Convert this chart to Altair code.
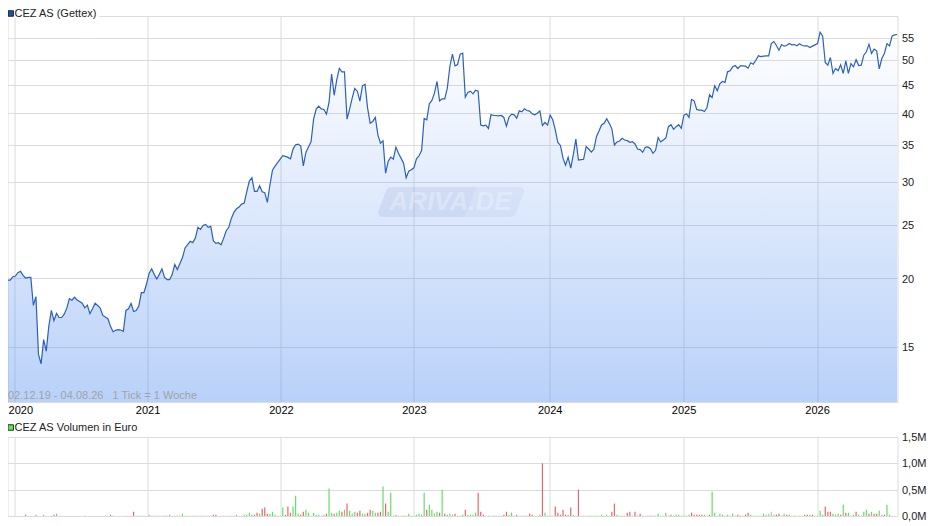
import altair as alt
import pandas as pd

prices = [
19.92,19.89,19.86,19.86,20.14,20.2,20.48,20.6,20.25,20.03,20.08,20.08,17.85,18.53,14.53,13.97,15.47,14.73,16.35,17.48,
16.74,17.26,16.97,16.97,17.21,17.65,18.37,18.25,18.48,18.27,18.15,18.02,17.67,17.87,17.24,17.6,18.02,17.85,17.65,17.12,
17.0,16.88,16.35,15.99,16.08,16.12,16.1,16.01,17.48,17.6,18.0,17.4,17.48,17.8,18.84,18.84,19.53,20.42,20.82,20.34,
19.94,20.34,20.82,20.11,19.89,19.89,20.34,21.2,20.76,21.29,21.83,22.73,23.05,23.37,23.24,
23.69,24.78,24.57,24.98,25.09,24.78,24.88,23.43,23.17,23.23,23.04,23.66,24.43,24.78,25.73,26.39,26.79,26.98,27.32,27.44,
28.78,30.1,30.52,28.82,28.82,29.51,28.78,28.66,27.52,29.59,31.51,32.05,32.51,33.01,33.48,33.38,33.24,
33.05,34.42,35.05,35.15,34.85,32.09,33.94,34.71,35.49,39.04,40.71,41.23,40.76,40.65,39.86,41.87,47.15,43.15,46.05,48.29,
47.62,47.62,39.04,40.71,42.63,44.4,43.9,42.1,44.9,45.21,40.88,38.38,38.66,39.31,36.55,35.3,35.64,31.12,32.68,33.28,33.0,
34.71,33.84,33.14,32.45,30.52,31.38,31.56,31.82,33.05,33.47,34.22,39.15,38.93,41.63,42.22,43.54,45.73,42.16,42.51,42.51,
44.46,48.7,51.28,48.84,49.11,51.28,51.5,42.81,43.66,43.9,43.42,44.09,43.9,38.07,37.96,38.07,37.54,39.8,39.64,39.64,39.58,
39.64,39.31,37.9,39.36,39.86,39.75,39.2,40.42,40.25,40.76,40.48,40.37,39.92,39.75,40.03,40.42,38.01,38.49,38.07,39.7,
38.93,37.33,35.39,34.95,33.14,32.18,33.28,31.78,33.61,35.89,32.86,
32.93,32.98,34.78,34.43,34.0,34.39,36.27,37.14,38.09,38.35,39.11,38.35,37.48,35.02,35.47,35.62,36.01,35.76,35.66,35.42,
35.52,35.17,34.43,34.35,33.96,34.68,34.73,34.48,33.82,34.25,36.12,35.47,35.76,36.06,37.82,38.14,37.4,37.82,38.14,37.56,
39.67,39.94,39.33,
42.39,42.16,40.66,40.54,40.54,40.31,41.0,43.24,42.75,44.9,43.97,45.28,45.72,45.53,47.62,47.82,48.63,48.9,48.29,48.83,
48.83,48.76,48.36,49.45,49.17,50.0,50.93,50.78,50.85,50.93,50.93,53.63,54.08,53.18,52.15,53.4,53.04,53.18,53.63,53.33,
53.4,53.11,53.56,53.18,53.11,53.11,52.74,53.04,53.33,53.63,56.25,55.31,49.52,48.97,50.57,47.29,48.29,47.82,49.04,47.29,
49.87,47.29,49.31,48.63,50.14,48.9,48.97,51.07,51.79,53.48,51.43,52.37,52.0,48.22,50.36,51.43,53.63,53.11,55.39,55.62,55.7,
]

volumes = [
.10,0,0,0,0,0,0,0,0,.025,0,0,0,.025,0,0,.025,0,0,.006,
.025,.045,0,0,0,0,0,0,0,0,0,0,.006,0,0,0,0,0,0,0,
.006,0,.025,.006,0,0,0,0,.006,0,.006,.08,.006,.006,.006,.006,0,.025,.006,.006,
.006,.006,.006,.006,.006,.025,0,.006,.006,.006,.045,.006,.006,.006,.006,.006,.006,.006,.006,.006,
.006,.006,.025,.025,0,.006,.006,.006,.006,.006,.006,.025,.006,.006,.025,.025,.063,.03,.025,.063,
.045,.14,.16,.045,.045,.08,.025,.006,.006,.16,.025,.18,.063,.18,.385,.045,.025,.08,.12,.063,
.006,.063,.025,.025,.006,.025,.045,.52,.063,.045,.063,.10,.08,.12,.235,.10,.045,.08,.063,.10,
.045,.045,.063,.12,.10,.063,.063,.08,.56,.235,.08,.44,.006,.025,.006,.006,.006,.006,.045,.006,
.006,.025,.045,.025,.44,.12,.215,.12,.045,.08,.063,.5,.045,.025,.045,.025,.045,.006,.006,.025,
.12,.025,
.025,.025,.063,.44,
.08,.025,.006,.006,.006,.006,.006,.006,.006,.025,.08,.025,.063,.006,.025,.006,.006,.006,.006,.045,.025,.006,.006,.025,1.0,
.063,.006,.006,.006,.18,.063,.025,.12,.025,.025,.16,.025,.006,.5,
.006,.006,.006,.006,.006,.006,.006,.006,.025,.006,.025,.006,
.08,.235,.025,.006,.006,.006,.063,.08,.006,.08,.006,.045,.006,.006,.006,.006,.006,.006,.045,.006,
.006,.063,.006,.025,.006,.025,.025,.006,.006,.006,.025,.063,.025,.025,.025,.025,.025,.006,.025,.46,
.063,.006,.045,.025,.006,.025,.006,.045,.006,.025,.006,.006,.025,.063,.025,.006,.006,.006,.006,.045,
.025,.045,.08,.025,.025,.045,.006,.045,.025,.025,.006,.006,.006,.006,.006,.025,.025,.025,.025,.006,
.006,.10,.025,.18,.08,.08,.045,.025,.045,.025,.215,.063,.063,.006,.025,.08,.025,.006,.08,.12,
.045,.08,.045,.045,.10,.025,.025,.215,.025,.025,.215,
]
vol_dirs = list(
"nggggggggrgggggggggg"
"rggggggggggg" "rggggggg"
"rgrrgggggg" "rrgggrgggr"
"rggrrggrrr" "ggggrggggg"
"rrrrgggggggggggggg" "rr"
"grrrgggggg" "rrrgggrrgg"
"ggggrgrggr" "ggrgrgggrr"
"ggrrggrrgr" "ggrgrrrrgg"
"gggggrgggg" "rgrgggrggg"
"rg"
"gggr"
"rrgrgrrrgrrgg" "rrgrrrrrgggr"
"grrgrrrrrgrggr"
"ggggrggggggg"
"rrggggrrgrrrrgrrrggg"
"ggrrggggrgg" "rrrrr" "ggrg"
"ggggrgggg" "rrrrrg" "ggggg"
"gnngrrrgrggrgggrrgrg"
"gggrrrgggrgrgrgrggg"
"grgrrggrgg"
)
year_ticks = [4.5, 56.4, 108.3, 160.0, 212.8, 264.9, 316.8]
price_ticks = [15, 20, 25, 30, 35, 40, 45, 50, 55]
vol_ticks = [0, 0.5, 1.0, 1.5]

GRID = "#dcdcdc"
FONT = "Liberation Sans"
WIDTH, PH, VH = 890, 386, 79
XMIN, XMAX = 1.94, 348.1
P_MIN, P_MAX = 11.9, 60.2

pdf = pd.DataFrame({"w": range(len(prices)), "p": prices})
pdf["base"] = P_MIN
n = min(len(volumes), len(vol_dirs))
vdf = pd.DataFrame({"w": range(n), "v": volumes[:n], "d": vol_dirs[:n]})
vdf = vdf[(vdf.v > 0) & (vdf.w >= XMIN)]

xscale = alt.Scale(domain=[XMIN, XMAX], nice=False, zero=False, padding=0)
yscale = alt.Scale(type="log", domain=[P_MIN, P_MAX], nice=False)

year_expr = "'' + (2020 + round((datum.value - 4.5) / 52.05))"

x_price = alt.X("w:Q", scale=xscale, title=None,
                axis=alt.Axis(values=year_ticks, labelExpr=year_expr, grid=True, gridColor=GRID, gridWidth=1,
                              domain=False, ticks=False, labelPadding=2, labelFontSize=11, labelColor="#000000",
                              labelFont=FONT, labelFlush=10, labelFlushOffset=6, labelOverlap=False))
y_price = alt.Y("p:Q", scale=yscale, title=None,
                axis=alt.Axis(orient="right", values=price_ticks, format="d", grid=True, gridColor=GRID, gridWidth=1,
                              domain=False, ticks=False, labelPadding=4, labelFontSize=11, labelColor="#222222",
                              labelFont=FONT, labelOverlap=False, labelOffset=0.7))

gradient = alt.Gradient(gradient="linear", x1=0, x2=0, y1=0, y2=1, stops=[
    alt.GradientStop(offset=0, color="rgba(80,140,240,0.0)"),
    alt.GradientStop(offset=1, color="rgba(80,140,240,0.4)"),
])

area = alt.Chart(pdf).mark_area(fill=gradient, line=False, interpolate="linear", clip=True).encode(
    x=x_price, y=y_price, y2="base:Q")
line = alt.Chart(pdf).mark_line(color="#2a60c0", strokeWidth=1.2, interpolate="linear", clip=True).encode(
    x=alt.X("w:Q", scale=xscale), y=alt.Y("p:Q", scale=yscale))


def at(px, py):
    return dict(x=alt.value(px), y=alt.value(py))


one = pd.DataFrame({"a": [0]})

wm_all = alt.Chart(one).mark_point(
    filled=True, size=4, opacity=1, fill="rgba(90,120,180,0.07)", stroke=None,
    shape="M-64,-15 L68,-15 Q75,-15 73,-9 L66,10 Q64,15 58,15 L-67,15 Q-74,15 -72,9 L-65,-10 Q-64,-15 -58,-15 Z",
).encode(**at(443, 186))
wm_left = alt.Chart(one).mark_point(
    filled=True, size=4, opacity=1, fill="rgba(90,120,180,0.05)", stroke=None,
    shape="M-64,-15 L26,-15 L14,15 L-67,15 Q-74,15 -72,9 L-65,-10 Q-64,-15 -58,-15 Z",
).encode(**at(443, 186))
wm_text = alt.Chart(one).mark_text(
    text="ARIVA.DE", font=FONT, fontSize=26, fontWeight="bold", fontStyle="italic", align="center",
    baseline="middle", color="rgba(255,255,255,0.28)",
).encode(**at(443, 186))

info = alt.Chart(one).mark_text(
    text="02.12.19 - 04.08.26\u00a0\u00a0\u00a01 Tick = 1 Woche", font=FONT, fontSize=11, align="left",
    baseline="middle", color="#a3a3a3",
).encode(**at(0.5, 380))

mask = alt.Chart(one).mark_rect(color="white", opacity=1).encode(
    x=alt.value(-1), x2=alt.value(92), y=alt.value(-9), y2=alt.value(2))
swatch_p = alt.Chart(one).mark_square(
    size=30, filled=True, fill="#1a4fa8", stroke="#1a2a40", strokeWidth=1, opacity=1,
).encode(**at(3.2, -2.5))
title_p = alt.Chart(one).mark_text(
    text="CEZ AS (Gettex)", font=FONT, fontSize=11, align="left", baseline="middle", color="#222222",
).encode(**at(7, -2.5))

price_panel = alt.layer(area, line, wm_all, wm_left, wm_text, info, mask, swatch_p, title_p).properties(width=WIDTH, height=PH)

x_vol = alt.X("w:Q", scale=xscale, title=None,
              axis=alt.Axis(values=year_ticks, labels=False, grid=True, gridColor=GRID, gridWidth=1,
                            domain=False, ticks=False))
y_vol = alt.Y("v:Q", scale=alt.Scale(domain=[0, 1.5], nice=False), title=None,
              axis=alt.Axis(orient="right", values=vol_ticks,
                            labelExpr="replace(format(datum.value, '.1f'), '.', ',') + 'M'",
                            grid=True, gridColor=GRID, gridWidth=1, domain=False, ticks=False, labelPadding=4,
                            labelFontSize=11, labelColor="#222222", labelFont=FONT, labelOverlap=False,
                            labelFlush=False, labelOffset=0.5))
bars = alt.Chart(vdf).mark_bar(size=1.2, opacity=1).encode(
    x=x_vol, y=y_vol,
    color=alt.Color("d:N", legend=None,
                    scale=alt.Scale(domain=["r", "g", "n"], range=["#e8666a", "#66dc66", "#c0c0c0"])),
)
swatch_v = alt.Chart(one).mark_square(
    size=30, filled=True, fill="#66dc66", stroke="#1a401a", strokeWidth=1, opacity=1,
).encode(**at(3.2, -9.5))
title_v = alt.Chart(one).mark_text(
    text="CEZ AS Volumen in Euro", font=FONT, fontSize=11, align="left", baseline="middle", color="#222222",
).encode(**at(7, -9.5))

vol_panel = alt.layer(bars, swatch_v, title_v).properties(width=WIDTH, height=VH)

chart = alt.vconcat(price_panel, vol_panel, spacing=35, bounds="flush").resolve_scale(
    x="independent", y="independent", color="independent"
).properties(
    padding={"left": -3.5, "top": -2, "right": 0, "bottom": 0},
    background="white",
).configure_view(stroke=GRID, strokeWidth=1)

chart.save("out.html", embed_options={"renderer": "svg", "actions": False})
